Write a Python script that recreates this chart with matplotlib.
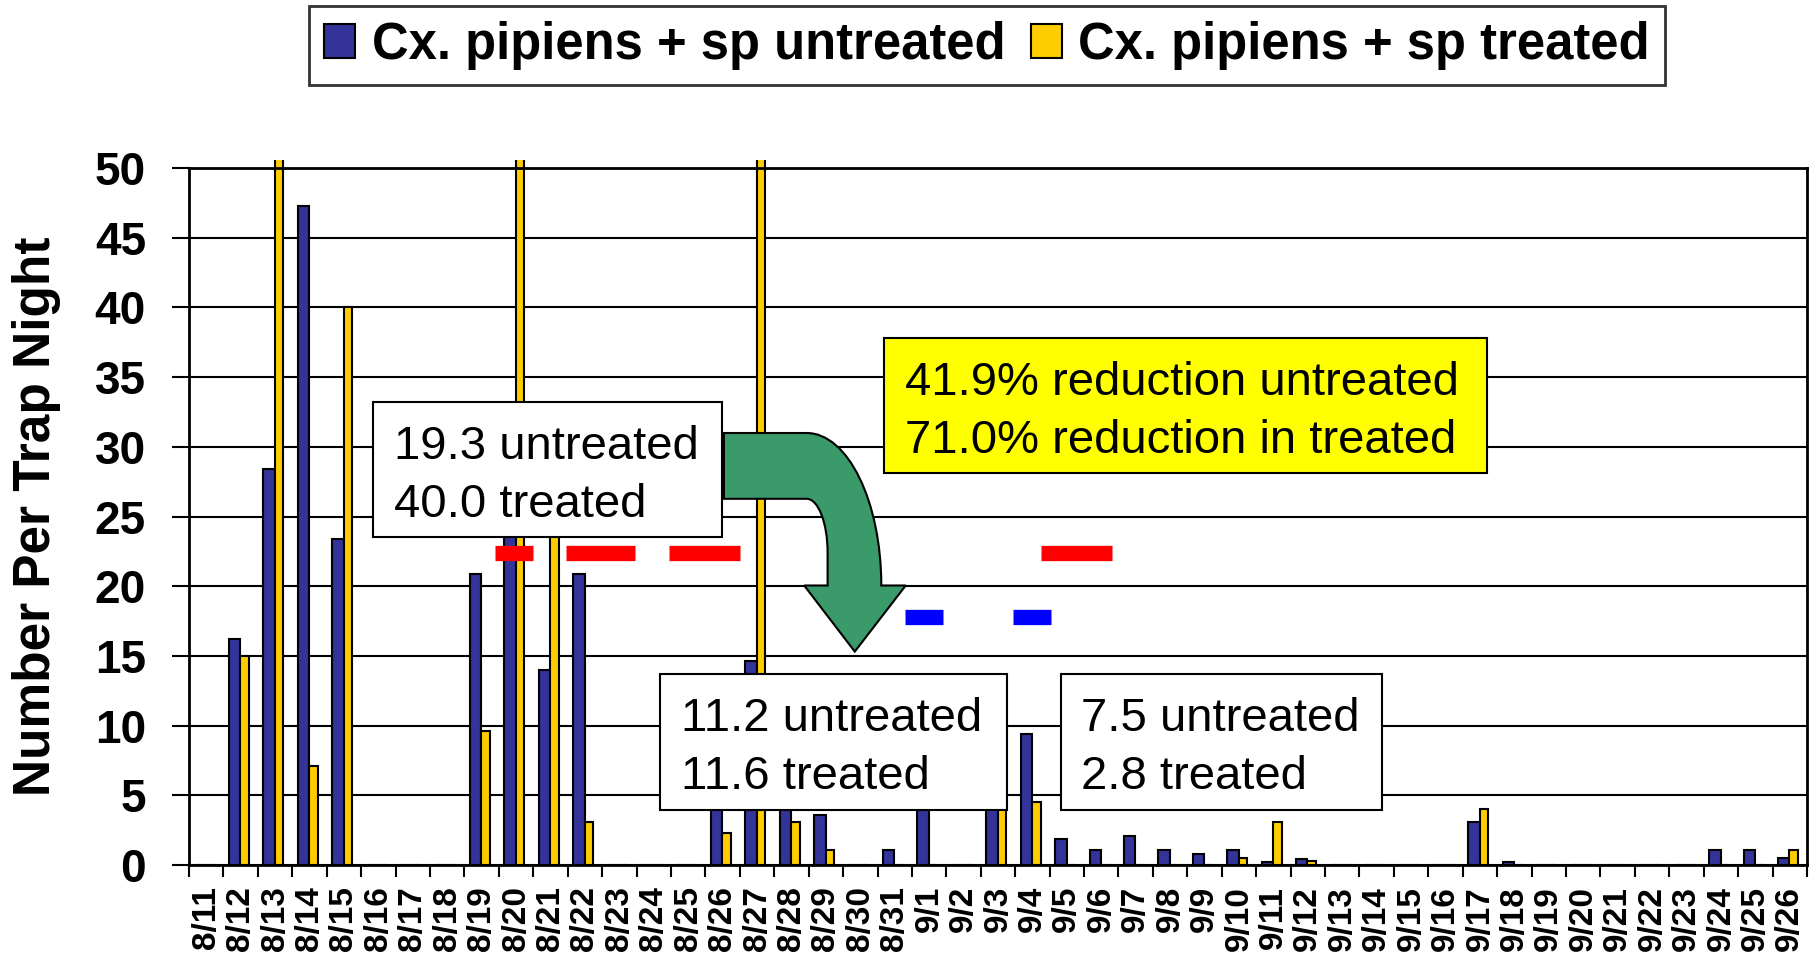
import numpy as np
import matplotlib.pyplot as plt
from matplotlib.patches import Patch, Rectangle, PathPatch
from matplotlib.path import Path

plt.rcParams['font.family'] = ['Liberation Sans', 'DejaVu Sans']

# === Data ===
dates = [f"8/{d}" for d in range(11, 32)] + [f"9/{d}" for d in range(1, 27)]

untreated = [0, 16.2, 28.4, 47.3, 23.4, 0, 0, 0, 20.9, 27.0, 14.0, 20.9, 0, 0, 0,
             9.0, 14.6, 11.0, 3.6, 0, 1.1,
             10.0, 0, 8.0, 9.4, 1.9, 1.1, 2.1, 1.1, 0.8, 1.1, 0.2, 0.4, 0, 0, 0, 0,
             3.1, 0.2, 0, 0, 0, 0, 0, 1.1, 1.1, 0.5]
treated = [0, 15.0, 65.0, 7.1, 40.0, 0, 0, 0, 9.6, 70.0, 28.0, 3.1, 0, 0, 0,
           2.3, 60.0, 3.1, 1.1, 0, 0,
           0, 0, 6.0, 4.5, 0, 0, 0, 0, 0, 0.5, 3.1, 0.3, 0, 0, 0, 0,
           4.0, 0, 0, 0, 0, 0, 0, 0, 0, 1.1]

series_names = ["Cx. pipiens + sp untreated", "Cx. pipiens + sp treated"]
blue, yellow = "#333399", "#FFCC00"

# annotation boxes: (x0, x1, y0, y1), text, fill
box_extents = [(4.84, 14.98, 23.5, 33.2), (19.69, 37.2, 28.1, 37.8),
               (13.19, 23.26, 3.95, 13.7), (24.84, 34.16, 3.95, 13.7)]
box_texts = ["19.3 untreated\n40.0 treated",
             "41.9% reduction untreated\n71.0% reduction in treated",
             "11.2 untreated\n11.6 treated",
             "7.5 untreated\n2.8 treated"]
box_text_x = [5.45, 20.3, 13.8, 25.4]
box_fill = ["white", "#FFFF00", "white", "white"]

# dash markers
red_level, red_spans = 22.4, [(8.4, 9.5), (10.45, 12.47), (13.44, 15.5), (24.26, 26.3)]
blue_level, blue_spans = 17.8, [(20.3, 21.4), (23.45, 24.53)]

# === Plot ===
fig = plt.figure(figsize=(18.17, 9.58), dpi=100)
ax = fig.add_axes([189 / 1817, 1 - 865 / 958, 1618 / 1817, 697 / 958])

x = np.arange(len(dates))
clip = Rectangle((0, 0), 1, 1.012, transform=ax.transAxes, facecolor="none", edgecolor="none")
b1 = ax.bar(x - 0.175, untreated, width=0.33, color=blue, edgecolor="black", linewidth=1.5, zorder=2)
b2 = ax.bar(x + 0.115, treated, width=0.25, color=yellow, edgecolor="black", linewidth=1.5, zorder=2)
for bar in list(b1) + list(b2):
    bar.set_clip_path(clip)

ax.set_xlim(-0.5, len(dates) - 0.5)
ax.set_ylim(0, 50)
ax.set_yticks(np.arange(0, 51, 5))
ax.yaxis.grid(True, color="black", linewidth=1.5)
ax.set_axisbelow(True)
for s in ax.spines.values():
    s.set_linewidth(2)

ax.set_xticks(x)
ax.set_xticklabels(dates, rotation=90, fontsize=24, fontweight="bold")
ax.set_xticks(np.arange(-0.5, len(dates)), minor=True)
ax.tick_params(axis="x", which="major", length=0, pad=15)
ax.tick_params(axis="x", which="minor", length=8.6, width=1.5, direction="out")
ax.tick_params(axis="y", length=12, width=1.5, direction="out", pad=19, labelsize=33)
for lbl in ax.get_yticklabels():
    lbl.set_fontweight("bold")

ax.set_ylabel("Number Per Trap Night", fontsize=37, fontweight="bold")
ax.yaxis.set_label_coords(-0.079, 0.5)

# dashes
for a, b in red_spans:
    ax.plot([a, b], [red_level, red_level], color="#FF0000", lw=11, solid_capstyle="butt", zorder=4)
for a, b in blue_spans:
    ax.plot([a, b], [blue_level, blue_level], color="#0000FF", lw=11, solid_capstyle="butt", zorder=4)

# annotation boxes
for (x0, x1, y0, y1), txt, tx, fc in zip(box_extents, box_texts, box_text_x, box_fill):
    ax.add_patch(Rectangle((x0, y0), x1 - x0, y1 - y0, facecolor=fc, edgecolor="black",
                           linewidth=1.5, zorder=5))
    ax.text(tx, (y0 + y1) / 2 - 0.45, txt, fontsize=34, ha="left", va="center",
            linespacing=1.41, zorder=6)

# curved green arrow
verts = [(15.04, 30.99), (17.44, 30.99),
         (18.64, 30.99), (19.61, 26.07), (19.61, 20.05),
         (20.32, 20.05), (18.84, 15.31), (17.37, 20.05), (18.05, 20.05), (18.05, 22.40),
         (18.05, 24.54), (17.78, 26.27), (17.44, 26.27),
         (15.04, 26.27), (15.04, 30.99)]
codes = [Path.MOVETO, Path.LINETO,
         Path.CURVE4, Path.CURVE4, Path.CURVE4,
         Path.LINETO, Path.LINETO, Path.LINETO, Path.LINETO, Path.LINETO,
         Path.CURVE4, Path.CURVE4, Path.CURVE4,
         Path.LINETO, Path.CLOSEPOLY]
ax.add_patch(PathPatch(Path(verts, codes), facecolor="#3A9A6A", edgecolor="black",
                       linewidth=1.5, zorder=5))

# legend
handles = [Patch(facecolor=blue, edgecolor="black", linewidth=1.5),
           Patch(facecolor=yellow, edgecolor="black", linewidth=1.5)]
leg = fig.legend(handles, series_names, loc="upper center", bbox_to_anchor=(987 / 1817, 1 - 6 / 958),
                 ncol=2, prop={"size": 36.5, "weight": "bold"}, frameon=True, fancybox=False,
                 handlelength=0.62, handleheight=0.65, handletextpad=0.32, columnspacing=0.5,
                 borderpad=0.3, borderaxespad=0)
leg.get_frame().set_edgecolor("black")
leg.get_frame().set_linewidth(2)

fig.savefig("out.png", dpi=100)
